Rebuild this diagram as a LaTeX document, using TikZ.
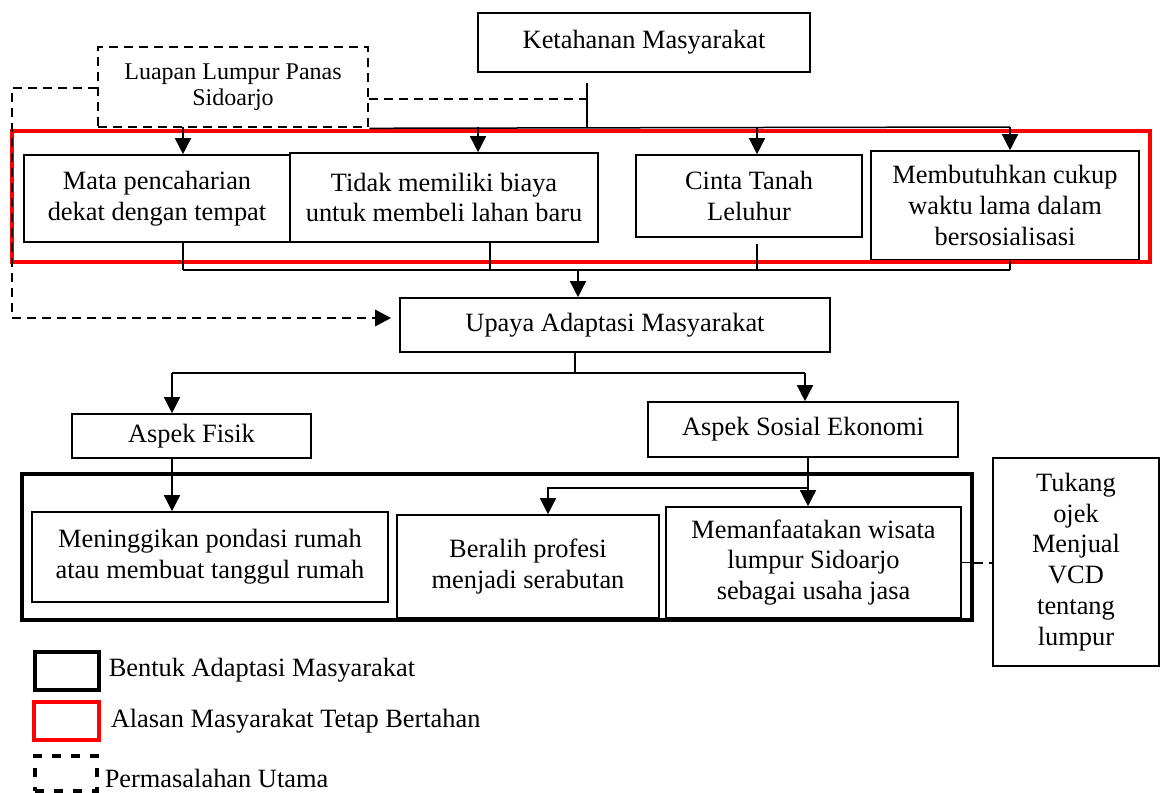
\documentclass[tikz,border=0pt]{standalone}
\usepackage{fontspec}
\setmainfont{Liberation Serif}
\usepackage{tikz}
\usetikzlibrary{arrows.meta}

\begin{document}
\begin{tikzpicture}[x=0.5pt, y=-0.5pt,
		font=\fontsize{13.2}{15.4}\selectfont,
		>={Triangle[length=8pt,width=8pt]},
		line width=0.75pt,
		boxnode/.style={rectangle, draw, align=center, inner sep=0pt, line width=0.8pt},
		dashline/.style={dash pattern=on 4.5pt off 3pt, line width=1.3pt},
		redframe/.style={rectangle, draw=red, line width=2pt, inner sep=0pt},
		blackframe/.style={rectangle, draw, line width=2.4pt, inner sep=0pt}]
		\useasboundingbox (0,0) rectangle (1161,792);
		
		\node (ketahanan) at (644,42.5) [boxnode, minimum width=166pt, minimum height=29.5pt] {Ketahanan Masyarakat};
		\node (luapan) at (233,87) [boxnode, dashline, minimum width=135pt, minimum height=40pt, font=\fontsize{12}{13}\selectfont] {Luapan Lumpur Panas\\Sidoarjo};
		
		\node (alasan_1) at (157,198.5) [boxnode, minimum width=133pt, minimum height=43.5pt] {Mata pencaharian\\dekat dengan tempat};
		\node (alasan_2) at (444,197.5) [boxnode, minimum width=154pt, minimum height=44.5pt] {Tidak memiliki biaya\\untuk membeli lahan baru};
		\node (alasan_3) at (749,196) [boxnode, minimum width=113pt, minimum height=41pt] {Cinta Tanah\\Leluhur};
		\node (alasan_4) at (1005,205.5) [boxnode, minimum width=134pt, minimum height=54.5pt] {Membutuhkan cukup\\waktu lama dalam\\bersosialisasi};
		\node (frame_alasan) at (581,196.5) [redframe, minimum width=569pt, minimum height=65.5pt] {};
		
		\node (upaya) at (615,325) [boxnode, minimum width=215pt, minimum height=27pt] {Upaya Adaptasi Masyarakat};
		\node (fisik) at (191.5,436) [boxnode, minimum width=119.5pt, minimum height=22pt] {Aspek Fisik};
		\node (sosial) at (803,429.5) [boxnode, minimum width=155pt, minimum height=27.5pt] {Aspek Sosial Ekonomi};
		
		\node (bentuk_1) at (210,557) [boxnode, minimum width=178pt, minimum height=45pt] {Meninggikan pondasi rumah\\atau membuat tanggul rumah};
		\node (bentuk_2) at (528,566.5) [boxnode, minimum width=131pt, minimum height=51.5pt] {Beralih profesi\\menjadi serabutan};
		\node (bentuk_3) at (813.5,562.5) [boxnode, minimum width=147.5pt, minimum height=55.5pt] {Memanfaatakan wisata\\lumpur Sidoarjo\\sebagai usaha jasa};
		\node (frame_bentuk) at (497,547) [blackframe, minimum width=475pt, minimum height=73pt] {};
		\node (tukang) at (1076,562) [boxnode, minimum width=83pt, minimum height=104pt] {Tukang\\ojek\\Menjual\\VCD\\tentang\\lumpur};
		
		% legend
		\node (leg_1) at (67,671) [blackframe, minimum width=32pt, minimum height=19pt] {};
		\node (leg_2) at (66.5,721) [redframe, minimum width=32.5pt, minimum height=19pt] {};
		\node (leg_3) at (66,773.5) [rectangle, draw, dash pattern=on 4.5pt off 5pt, line width=2pt, minimum width=31pt, minimum height=17.5pt] {};
		\node (leg_1_text) at (108,670) [anchor=west, inner sep=0pt] {Bentuk Adaptasi Masyarakat};
		\node (leg_2_text) at (110,721) [anchor=west, inner sep=0pt] {Alasan Masyarakat Tetap Bertahan};
		\node (leg_3_text) at (104,778) [anchor=west, inner sep=0pt] {Permasalahan Utama};
		
		\coordinate (t_1) at (183,127);
		\coordinate (t_2) at (478,127);
		\coordinate (t_3) at (757,127);
		\coordinate (t_4) at (1010,127);
		\coordinate (k_bus) at (587,127);
		\coordinate (k_mid) at (587,99);
		\coordinate (d_1) at (12,88);
		\coordinate (d_2) at (12,318);
		\coordinate (b_1) at (183,270);
		\coordinate (b_2) at (490,270);
		\coordinate (b_3) at (757,270);
		\coordinate (b_4) at (1010,270);
		\coordinate (m_1) at (578,270);
		\coordinate (u_0) at (575,373);
		\coordinate (u_1) at (172,373);
		\coordinate (u_2) at (805,373);
		\coordinate (s_1) at (808,488);
		\coordinate (s_2) at (548,488);
		
		% Ketahanan and Luapan to the reasons
		\draw[shorten <=5pt] (ketahanan.south -| k_bus) -- (k_bus);
		\draw (luapan.south east) -- (t_4);
		\draw[->] (t_1) -- (t_1 |- alasan_1.north);
		\draw[->] (t_2) -- (t_2 |- alasan_2.north);
		\draw[->] (t_3) -- (t_3 |- alasan_3.north);
		\draw[->] (t_4) -- (t_4 |- alasan_4.north);
		\draw[dashline] (luapan.east |- k_mid) -- (k_mid);
		\draw[dashline, ->] (luapan.west |- d_1) -- (d_1) -- (d_2) -- ([xshift=-4pt]d_2 -| upaya.west);
		
		% reasons to Upaya
		\draw (alasan_1.south -| b_1) -- (b_1);
		\draw (alasan_2.south -| b_2) -- (b_2);
		\draw[shorten <=3pt] (alasan_3.south -| b_3) -- (b_3);
		\draw (alasan_4.south -| b_4) -- (b_4);
		\draw (b_1) -- (b_4);
		\draw[->] (m_1) -- (m_1 |- upaya.north);
		
		% Upaya to the aspects
		\draw (upaya.south -| u_0) -- (u_0);
		\draw (u_1) -- (u_2);
		\draw[->] (u_1) -- (u_1 |- fisik.north);
		\draw[->] (u_2) -- (u_2 |- sosial.north);
		\draw[->] (fisik.south -| u_1) -- (bentuk_1.north -| u_1);
		\draw[->] (sosial.south -| s_1) -- (bentuk_3.north -| s_1);
		\draw[->] (s_1) -- (s_2) -- (s_2 |- bentuk_2.north);
		\draw (bentuk_3.east) -- (bentuk_3.east -| frame_bentuk.east);
		\draw[dashline, line width=1pt] (bentuk_3.east -| frame_bentuk.east) -- (bentuk_3.east -| tukang.west);
	\end{tikzpicture}
\end{document}
